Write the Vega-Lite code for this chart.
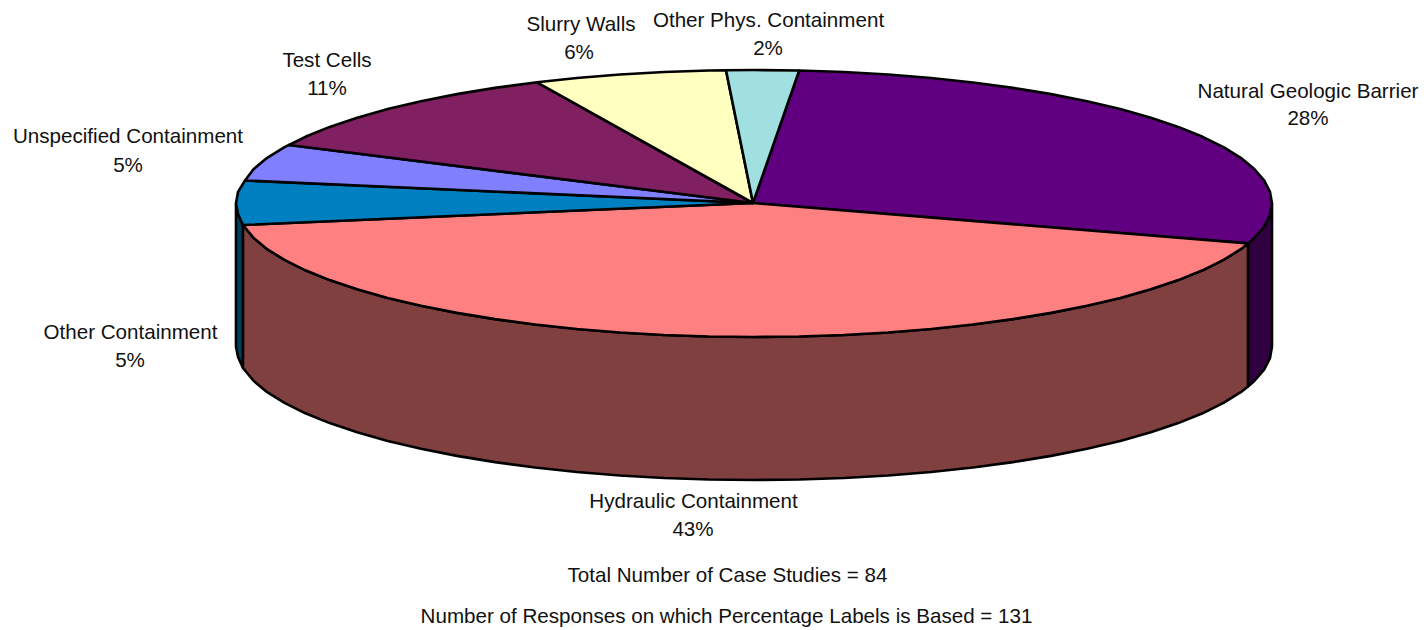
{"$schema":"https://vega.github.io/schema/vega-lite/v6.json","width":1426,"height":630,"padding":0,"autosize":{"type":"none"},"background":"white","view":{"stroke":null},
"datasets":{"labels":[
{"t":"Natural Geologic Barrier","x":1308,"y":92},{"t":"28%","x":1308,"y":119},
{"t":"Hydraulic Containment","x":693.5,"y":502},{"t":"43%","x":693,"y":530},
{"t":"Other Containment","x":130.5,"y":333},{"t":"5%","x":130,"y":361},
{"t":"Unspecified Containment","x":128,"y":137},{"t":"5%","x":128,"y":166},
{"t":"Test Cells","x":327,"y":61},{"t":"11%","x":327,"y":89},
{"t":"Slurry Walls","x":581,"y":25},{"t":"6%","x":579,"y":53},
{"t":"Other Phys. Containment","x":768.5,"y":21},{"t":"2%","x":768,"y":49},
{"t":"Total Number of Case Studies = 84","x":727.5,"y":576},
{"t":"Number of Responses on which Percentage Labels is Based = 131","x":726.5,"y":617}],
"outline":[
{"s":"Other side","o":1,"x":236,"y":203.5},{"s":"Other side","o":2,"x":238,"y":214},{"s":"Other side","o":3,"x":243,"y":225},{"s":"Other side","o":4,"x":243,"y":368},{"s":"Other side","o":5,"x":238,"y":357},{"s":"Other side","o":6,"x":236,"y":346.5},{"s":"Other side","o":7,"x":236,"y":203.5},
{"s":"Natural side","o":1,"x":1272,"y":203.5},{"s":"Natural side","o":2,"x":1270,"y":215.1},{"s":"Natural side","o":3,"x":1264.1,"y":226.7},{"s":"Natural side","o":4,"x":1254.3,"y":238},{"s":"Natural side","o":5,"x":1248,"y":243.4},{"s":"Natural side","o":6,"x":1248,"y":386.4},{"s":"Natural side","o":7,"x":1254.3,"y":381},{"s":"Natural side","o":8,"x":1264.1,"y":369.7},{"s":"Natural side","o":9,"x":1270,"y":358.1},{"s":"Natural side","o":10,"x":1272,"y":346.5},{"s":"Natural side","o":11,"x":1272,"y":203.5},
{"s":"Hydraulic side","o":1,"x":1248,"y":243.4},{"s":"Hydraulic side","o":2,"x":1240.8,"y":249.2},{"s":"Hydraulic side","o":3,"x":1223.5,"y":259.9},{"s":"Hydraulic side","o":4,"x":1202.6,"y":270.3},{"s":"Hydraulic side","o":5,"x":1178.3,"y":280.1},{"s":"Hydraulic side","o":6,"x":1150.8,"y":289.3},{"s":"Hydraulic side","o":7,"x":1120.3,"y":297.9},{"s":"Hydraulic side","o":8,"x":1087,"y":305.8},{"s":"Hydraulic side","o":9,"x":1051.1,"y":312.9},{"s":"Hydraulic side","o":10,"x":1013,"y":319.1},{"s":"Hydraulic side","o":11,"x":972.9,"y":324.5},{"s":"Hydraulic side","o":12,"x":931.2,"y":329},{"s":"Hydraulic side","o":13,"x":888.1,"y":332.5},{"s":"Hydraulic side","o":14,"x":843.9,"y":335},{"s":"Hydraulic side","o":15,"x":799.2,"y":336.5},{"s":"Hydraulic side","o":16,"x":754,"y":337},{"s":"Hydraulic side","o":17,"x":708.8,"y":336.5},{"s":"Hydraulic side","o":18,"x":664.1,"y":335},{"s":"Hydraulic side","o":19,"x":619.9,"y":332.5},{"s":"Hydraulic side","o":20,"x":576.8,"y":329},{"s":"Hydraulic side","o":21,"x":535.1,"y":324.5},{"s":"Hydraulic side","o":22,"x":495,"y":319.1},{"s":"Hydraulic side","o":23,"x":456.9,"y":312.9},{"s":"Hydraulic side","o":24,"x":421,"y":305.8},{"s":"Hydraulic side","o":25,"x":387.7,"y":297.9},{"s":"Hydraulic side","o":26,"x":357.2,"y":289.3},{"s":"Hydraulic side","o":27,"x":329.7,"y":280.1},{"s":"Hydraulic side","o":28,"x":305.4,"y":270.3},{"s":"Hydraulic side","o":29,"x":284.5,"y":259.9},{"s":"Hydraulic side","o":30,"x":267.2,"y":249.2},{"s":"Hydraulic side","o":31,"x":253.7,"y":238},{"s":"Hydraulic side","o":32,"x":243,"y":225},
{"s":"Hydraulic side","o":33,"x":243,"y":368},{"s":"Hydraulic side","o":34,"x":253.7,"y":381},{"s":"Hydraulic side","o":35,"x":267.2,"y":392.2},{"s":"Hydraulic side","o":36,"x":284.5,"y":402.9},{"s":"Hydraulic side","o":37,"x":305.4,"y":413.3},{"s":"Hydraulic side","o":38,"x":329.7,"y":423.1},{"s":"Hydraulic side","o":39,"x":357.2,"y":432.3},{"s":"Hydraulic side","o":40,"x":387.7,"y":440.9},{"s":"Hydraulic side","o":41,"x":421,"y":448.8},{"s":"Hydraulic side","o":42,"x":456.9,"y":455.9},{"s":"Hydraulic side","o":43,"x":495,"y":462.1},{"s":"Hydraulic side","o":44,"x":535.1,"y":467.5},{"s":"Hydraulic side","o":45,"x":576.8,"y":472},{"s":"Hydraulic side","o":46,"x":619.9,"y":475.5},{"s":"Hydraulic side","o":47,"x":664.1,"y":478},{"s":"Hydraulic side","o":48,"x":708.8,"y":479.5},{"s":"Hydraulic side","o":49,"x":754,"y":480},{"s":"Hydraulic side","o":50,"x":799.2,"y":479.5},{"s":"Hydraulic side","o":51,"x":843.9,"y":478},{"s":"Hydraulic side","o":52,"x":888.1,"y":475.5},{"s":"Hydraulic side","o":53,"x":931.2,"y":472},{"s":"Hydraulic side","o":54,"x":972.9,"y":467.5},{"s":"Hydraulic side","o":55,"x":1013,"y":462.1},{"s":"Hydraulic side","o":56,"x":1051.1,"y":455.9},{"s":"Hydraulic side","o":57,"x":1087,"y":448.8},{"s":"Hydraulic side","o":58,"x":1120.3,"y":440.9},{"s":"Hydraulic side","o":59,"x":1150.8,"y":432.3},{"s":"Hydraulic side","o":60,"x":1178.3,"y":423.1},{"s":"Hydraulic side","o":61,"x":1202.6,"y":413.3},{"s":"Hydraulic side","o":62,"x":1223.5,"y":402.9},{"s":"Hydraulic side","o":63,"x":1240.8,"y":392.2},{"s":"Hydraulic side","o":64,"x":1248,"y":386.4},{"s":"Hydraulic side","o":65,"x":1248,"y":243.4},
{"s":"Natural top","o":1,"x":753,"y":203},{"s":"Natural top","o":2,"x":799.2,"y":70.5},{"s":"Natural top","o":3,"x":843.9,"y":72},{"s":"Natural top","o":4,"x":888.1,"y":74.5},{"s":"Natural top","o":5,"x":931.2,"y":78},{"s":"Natural top","o":6,"x":972.9,"y":82.5},{"s":"Natural top","o":7,"x":1013,"y":87.9},{"s":"Natural top","o":8,"x":1051.1,"y":94.1},{"s":"Natural top","o":9,"x":1087,"y":101.2},{"s":"Natural top","o":10,"x":1120.3,"y":109.1},{"s":"Natural top","o":11,"x":1150.8,"y":117.7},{"s":"Natural top","o":12,"x":1178.3,"y":126.9},{"s":"Natural top","o":13,"x":1202.6,"y":136.8},{"s":"Natural top","o":14,"x":1223.5,"y":147.1},{"s":"Natural top","o":15,"x":1240.8,"y":157.8},{"s":"Natural top","o":16,"x":1254.3,"y":169},{"s":"Natural top","o":17,"x":1264.1,"y":180.3},{"s":"Natural top","o":18,"x":1270,"y":191.9},{"s":"Natural top","o":19,"x":1272,"y":203.5},{"s":"Natural top","o":20,"x":1270,"y":215.1},{"s":"Natural top","o":21,"x":1264.1,"y":226.7},{"s":"Natural top","o":22,"x":1254.3,"y":238},{"s":"Natural top","o":23,"x":1248,"y":243.4},{"s":"Natural top","o":24,"x":753,"y":203},
{"s":"Hydraulic top","o":1,"x":753,"y":203},{"s":"Hydraulic top","o":2,"x":1248,"y":243.4},{"s":"Hydraulic top","o":3,"x":1240.8,"y":249.2},{"s":"Hydraulic top","o":4,"x":1223.5,"y":259.9},{"s":"Hydraulic top","o":5,"x":1202.6,"y":270.3},{"s":"Hydraulic top","o":6,"x":1178.3,"y":280.1},{"s":"Hydraulic top","o":7,"x":1150.8,"y":289.3},{"s":"Hydraulic top","o":8,"x":1120.3,"y":297.9},{"s":"Hydraulic top","o":9,"x":1087,"y":305.8},{"s":"Hydraulic top","o":10,"x":1051.1,"y":312.9},{"s":"Hydraulic top","o":11,"x":1013,"y":319.1},{"s":"Hydraulic top","o":12,"x":972.9,"y":324.5},{"s":"Hydraulic top","o":13,"x":931.2,"y":329},{"s":"Hydraulic top","o":14,"x":888.1,"y":332.5},{"s":"Hydraulic top","o":15,"x":843.9,"y":335},{"s":"Hydraulic top","o":16,"x":799.2,"y":336.5},{"s":"Hydraulic top","o":17,"x":754,"y":337},{"s":"Hydraulic top","o":18,"x":708.8,"y":336.5},{"s":"Hydraulic top","o":19,"x":664.1,"y":335},{"s":"Hydraulic top","o":20,"x":619.9,"y":332.5},{"s":"Hydraulic top","o":21,"x":576.8,"y":329},{"s":"Hydraulic top","o":22,"x":535.1,"y":324.5},{"s":"Hydraulic top","o":23,"x":495,"y":319.1},{"s":"Hydraulic top","o":24,"x":456.9,"y":312.9},{"s":"Hydraulic top","o":25,"x":421,"y":305.8},{"s":"Hydraulic top","o":26,"x":387.7,"y":297.9},{"s":"Hydraulic top","o":27,"x":357.2,"y":289.3},{"s":"Hydraulic top","o":28,"x":329.7,"y":280.1},{"s":"Hydraulic top","o":29,"x":305.4,"y":270.3},{"s":"Hydraulic top","o":30,"x":284.5,"y":259.9},{"s":"Hydraulic top","o":31,"x":267.2,"y":249.2},{"s":"Hydraulic top","o":32,"x":253.7,"y":238},{"s":"Hydraulic top","o":33,"x":243,"y":225},{"s":"Hydraulic top","o":34,"x":753,"y":203},
{"s":"Other top","o":1,"x":753,"y":203},{"s":"Other top","o":2,"x":243,"y":225},{"s":"Other top","o":3,"x":238,"y":214},{"s":"Other top","o":4,"x":236,"y":203.5},{"s":"Other top","o":5,"x":238,"y":191.9},{"s":"Other top","o":6,"x":245,"y":180.5},{"s":"Other top","o":7,"x":753,"y":203},
{"s":"Unspecified","o":1,"x":753,"y":203},{"s":"Unspecified","o":2,"x":245,"y":180.5},{"s":"Unspecified","o":3,"x":253.7,"y":169},{"s":"Unspecified","o":4,"x":267.2,"y":157.8},{"s":"Unspecified","o":5,"x":284.5,"y":147.1},{"s":"Unspecified","o":6,"x":289,"y":145},{"s":"Unspecified","o":7,"x":753,"y":203},
{"s":"Test Cells","o":1,"x":753,"y":203},{"s":"Test Cells","o":2,"x":289,"y":145},{"s":"Test Cells","o":3,"x":305.4,"y":136.8},{"s":"Test Cells","o":4,"x":329.7,"y":126.9},{"s":"Test Cells","o":5,"x":357.2,"y":117.7},{"s":"Test Cells","o":6,"x":387.7,"y":109.1},{"s":"Test Cells","o":7,"x":421,"y":101.2},{"s":"Test Cells","o":8,"x":456.9,"y":94.1},{"s":"Test Cells","o":9,"x":495,"y":87.9},{"s":"Test Cells","o":10,"x":537,"y":82.3},{"s":"Test Cells","o":11,"x":753,"y":203},
{"s":"Slurry Walls","o":1,"x":753,"y":203},{"s":"Slurry Walls","o":2,"x":537,"y":82.3},{"s":"Slurry Walls","o":3,"x":576.8,"y":78},{"s":"Slurry Walls","o":4,"x":619.9,"y":74.5},{"s":"Slurry Walls","o":5,"x":664.1,"y":72},{"s":"Slurry Walls","o":6,"x":708.8,"y":70.5},{"s":"Slurry Walls","o":7,"x":726,"y":70.2},{"s":"Slurry Walls","o":8,"x":753,"y":203},
{"s":"Other Phys","o":1,"x":753,"y":203},{"s":"Other Phys","o":2,"x":726,"y":70.2},{"s":"Other Phys","o":3,"x":754,"y":70},{"s":"Other Phys","o":4,"x":799.2,"y":70.5},{"s":"Other Phys","o":5,"x":753,"y":203}
]},
"layer":[
{"data":{"name":"outline"},"mark":{"type":"line","strokeWidth":2.6,"stroke":"black","strokeJoin":"round","clip":false},
"encoding":{"x":{"field":"x","type":"quantitative","scale":{"domain":[0,1426]},"axis":null},"y":{"field":"y","type":"quantitative","scale":{"domain":[630,0]},"axis":null},"order":{"field":"o","type":"quantitative"},"detail":{"field":"s"},
"fill":{"field":"s","type":"nominal","legend":null,"scale":{"domain":["Other side","Natural side","Hydraulic side","Natural top","Hydraulic top","Other top","Unspecified","Test Cells","Slurry Walls","Other Phys"],"range":["#004060","#300040","#804040","#600080","#FF8080","#0080C0","#8080FF","#802060","#FFFFC0","#A0E0E0"]}}}},
{"data":{"name":"labels"},"mark":{"type":"text","font":"Liberation Sans","fontSize":20.6,"color":"#111111","align":"center","baseline":"middle"},
"encoding":{"x":{"field":"x","type":"quantitative","scale":{"domain":[0,1426]},"axis":null},"y":{"field":"y","type":"quantitative","scale":{"domain":[630,0]},"axis":null},"text":{"field":"t"}}}
]}
